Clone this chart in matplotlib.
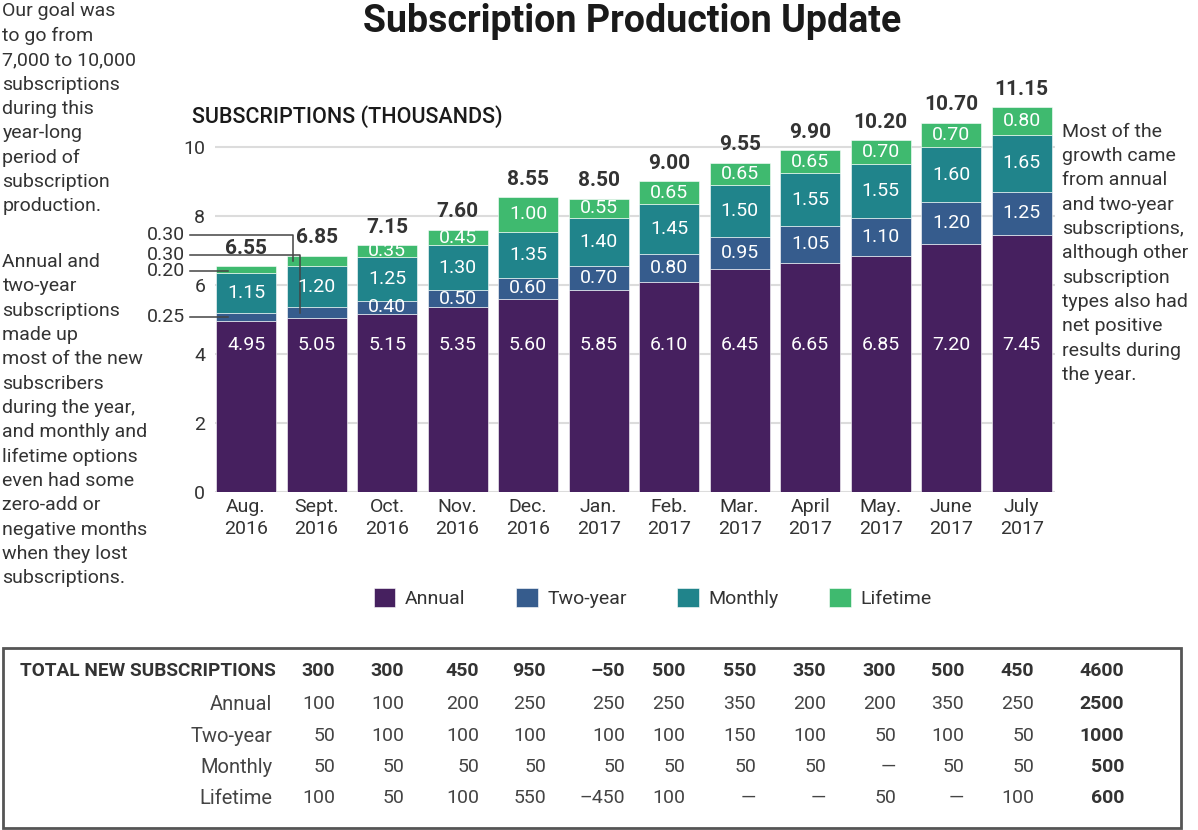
import matplotlib.pyplot as plt
import numpy as np
from matplotlib.patches import Patch, Rectangle

plt.rcParams['font.family'] = ['Roboto', 'DejaVu Sans']

months = ["Aug.\n2016", "Sept.\n2016", "Oct.\n2016", "Nov.\n2016", "Dec.\n2016", "Jan.\n2017",
          "Feb.\n2017", "Mar.\n2017", "April\n2017", "May.\n2017", "June\n2017", "July\n2017"]
annual = [4.95, 5.05, 5.15, 5.35, 5.60, 5.85, 6.10, 6.45, 6.65, 6.85, 7.20, 7.45]
two_year = [0.25, 0.30, 0.40, 0.50, 0.60, 0.70, 0.80, 0.95, 1.05, 1.10, 1.20, 1.25]
monthly = [1.15, 1.20, 1.25, 1.30, 1.35, 1.40, 1.45, 1.50, 1.55, 1.55, 1.60, 1.65]
lifetime = [0.20, 0.30, 0.35, 0.45, 1.00, 0.55, 0.65, 0.65, 0.65, 0.70, 0.70, 0.80]
totals = [6.55, 6.85, 7.15, 7.60, 8.55, 8.50, 9.00, 9.55, 9.90, 10.20, 10.70, 11.15]

series_names = ["Annual", "Two-year", "Monthly", "Lifetime"]
colors = ["#46205f", "#365c8d", "#20848b", "#3fba6f"]

# tabela de novas assinaturas (set. a jul.)
tab_annual = [100, 100, 200, 250, 250, 250, 350, 200, 200, 350, 250]
tab_two_year = [50, 100, 100, 100, 100, 100, 150, 100, 50, 100, 50]
tab_monthly = [50, 50, 50, 50, 50, 50, 50, 50, 0, 50, 50]
tab_lifetime = [100, 50, 100, 550, -450, 100, 0, 0, 50, 0, 100]

dark = "#333333"
fig = plt.figure(figsize=(11.98, 8.30), dpi=100)
ax = fig.add_axes([0.1795, 0.4072, 0.701, 0.4656])

x = np.arange(len(months))
w = 0.85
series = [annual, two_year, monthly, lifetime]
bottom = np.zeros(len(months))
for vals, col in zip(series, colors):
    ax.bar(x, vals, w, bottom=bottom, color=col, edgecolor='white', linewidth=0.4)
    bottom += np.array(vals)

ax.set_xlim(-0.44, 11.47)
ax.set_ylim(0, 11.2)
ax.set_yticks([0, 2, 4, 6, 8, 10])
ax.grid(axis='y', color='#dcdcdc', lw=1.5)
ax.set_axisbelow(True)
for s in ax.spines.values():
    s.set_visible(False)
ax.tick_params(length=0, labelsize=14, labelcolor=dark)
ax.tick_params(axis='y', pad=7)
ax.tick_params(axis='x', pad=4)
ax.set_xticks(x)
ax.set_xticklabels(months, linespacing=1.35)

# rótulos dentro das barras
base = np.zeros(len(months))
for k, vals in enumerate(series):
    for i, v in enumerate(vals):
        if k == 0:
            y = 4.25
        elif v <= 0.30:
            continue
        else:
            y = base[i] + v / 2
        ax.text(x[i], y, f'{v:.2f}', ha='center', va='center', color='white', fontsize=14)
    base += np.array(vals)

for i, t in enumerate(totals):
    ax.annotate(f'{t:.2f}', (x[i], t), xytext=(0, 6), textcoords='offset points',
                ha='center', va='bottom', fontsize=15, fontweight='bold', color=dark)

# chamadas para os segmentos pequenos de ago. e set.
lc = "#444444"
lab_x, line_x = -0.87, -0.79
y_life0 = annual[0] + two_year[0] + monthly[0] + 0.05
y_two0 = annual[0] + two_year[0] / 2
for y, v in [(y_life0, lifetime[0]), (y_two0, two_year[0])]:
    ax.plot([line_x, x[0] - 0.25], [y, y], color=lc, lw=1.1, clip_on=False)
    ax.text(lab_x, y, f'{v:.2f}', ha='right', va='center', fontsize=14, color=dark)
for y_lab, xv, y_end, v in [(7.45, x[1] - 0.33, annual[1] + two_year[1] + monthly[1] + lifetime[1] / 2, lifetime[1]),
                            (6.88, x[1] - 0.23, annual[1] + two_year[1] / 2, two_year[1])]:
    ax.plot([line_x, xv, xv], [y_lab, y_lab, y_end], color=lc, lw=1.1, clip_on=False)
    ax.text(lab_x, y_lab, f'{v:.2f}', ha='right', va='center', fontsize=14, color=dark)

fig.text(0.5275, 0.974, "Subscription Production Update", ha='center', va='center',
         fontsize=27, fontweight='bold', color='#1a1a1a')
fig.text(0.160, 0.860, "SUBSCRIPTIONS (THOUSANDS)", ha='left', va='center',
         fontsize=15.5, color='#1a1a1a', fontweight='medium')

left1 = ("Our goal was\nto go from\n7,000 to 10,000\nsubscriptions\nduring this\nyear-long\n"
         "period of\nsubscription\nproduction.")
left2 = ("Annual and\ntwo-year\nsubscriptions\nmade up\nmost of the new\nsubscribers\n"
         "during the year,\nand monthly and\nlifetime options\neven had some\nzero-add or\n"
         "negative months\nwhen they lost\nsubscriptions.")
right = ("Most of the\ngrowth came\nfrom annual\nand two-year\nsubscriptions,\nalthough other\n"
         "subscription\ntypes also had\nnet positive\nresults during\nthe year.")
ls = 1.45
fig.text(0.002, 0.997, left1, ha='left', va='top', fontsize=14, color=dark, linespacing=ls)
fig.text(0.002, 0.695, left2, ha='left', va='top', fontsize=14, color=dark, linespacing=ls)
fig.text(0.8865, 0.852, right, ha='left', va='top', fontsize=14, color=dark, linespacing=ls)

handles = [Patch(facecolor=c, edgecolor='white', linewidth=0.4) for c in colors]
fig.legend(handles, series_names, loc='center', bbox_to_anchor=(0.545, 0.2795), ncol=4,
           frameon=False, handlelength=1.1, handleheight=1.1,
           handletextpad=0.5, columnspacing=2.6, labelcolor=dark,
           prop={'size': 14})

# tabela
fig.patches.append(Rectangle((3 / 1198, 1 - 828 / 830), 1178 / 1198, 180 / 830,
                             transform=fig.transFigure, fill=False, ec='#555555', lw=2))


def fmt(v):
    if v == 0:
        return "\u2014"
    if v < 0:
        return "\u2013" + str(-v)
    return str(v)


col_x = [335, 404, 479, 546, 625, 685, 756, 826, 896, 964, 1034, 1124]
row_y = [671, 704, 736, 767, 798]
rows = [tab_annual, tab_two_year, tab_monthly, tab_lifetime]
tab_total = [sum(c) for c in zip(*rows)]

fig.text(20 / 1198, 1 - row_y[0] / 830, "TOTAL NEW SUBSCRIPTIONS", ha='left', va='center',
         fontsize=13.7, fontweight='bold', color=dark)
for j, v in enumerate(tab_total + [sum(tab_total)]):
    fig.text(col_x[j] / 1198, 1 - row_y[0] / 830, fmt(v), ha='right', va='center',
             fontsize=14, fontweight='bold', color=dark)
for r, (name, vals) in enumerate(zip(series_names, rows)):
    y = 1 - row_y[r + 1] / 830
    fig.text(272 / 1198, y, name, ha='right', va='center', fontsize=14.5, color='#444444')
    for j, v in enumerate(vals):
        fig.text(col_x[j] / 1198, y, fmt(v), ha='right', va='center', fontsize=14,
                 color='#444444')
    fig.text(col_x[-1] / 1198, y, fmt(sum(vals)), ha='right', va='center',
             fontsize=14, fontweight='bold', color=dark)

fig.savefig("out.png", dpi=100)
